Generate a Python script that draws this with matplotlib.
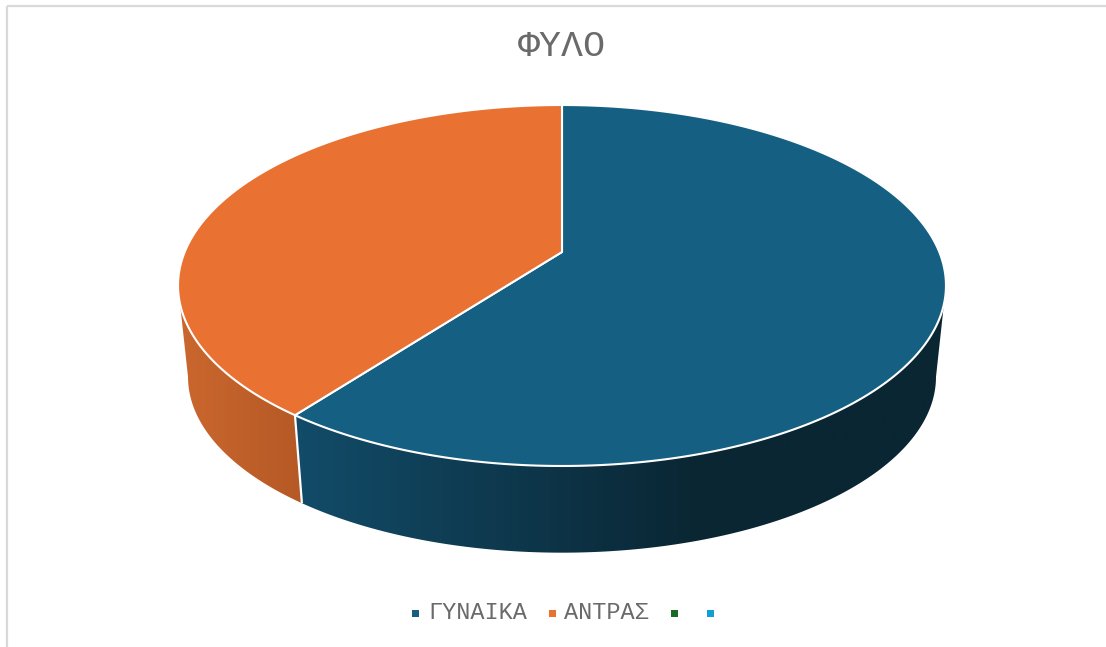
#!/usr/bin/env python

import numpy as np
import matplotlib
matplotlib.use("Agg")
from matplotlib import pyplot as plt
from matplotlib.colors import LinearSegmentedColormap
from matplotlib.patches import Polygon, Rectangle

title = "ΦΥΛΟ"
categories = ["ΓΥΝΑΙΚΑ", "ΑΝΤΡΑΣ", "", ""]
shares = [60.3, 39.7, 0, 0]
colors = ["#156082", "#E97132", "#196B24", "#0F9ED5"]
# side wall shade, left and right end of each wedge
sideColors = [("#124B68", "#0A2633"), ("#C9662D", "#B55926")]

W, H = 1106, 647
cx, apexY = 562, 252
persp = 0.1856   # how much the back of the disc shrinks
kx, ky = 377.3, -127.5
wallScale, wallDrop = 0.974, 98.8


def project(angle):
    """
    Clockwise angle from 12 o'clock on the unit disc to pixel position of the top rim
    """
    u, v = np.sin(angle), np.cos(angle)
    d = 1 + persp * v
    return cx + kx * u / d, (apexY + ky * v) / d


def toBottom(x, y):
    return cx + wallScale * (x - cx), wallScale * y + wallDrop


fig = plt.figure(figsize=(W / 100, H / 100), dpi=100)
ax = fig.add_axes([0, 0, 1, 1])

# chart frame
ax.add_patch(Rectangle((6.8, 5.6), W + 20, H + 20, fill=False, ec="#D9D9D9", lw=1.6))

total = sum(shares)
edges = np.cumsum([0] + shares) / total * 2 * np.pi

# only the front of the wall shows, between the two widest points of the rim
frontStart = np.arccos(-persp)
frontEnd = 2 * np.pi - frontStart
gradRange = [(302, 700), (188, 302)]
gradX = np.arange(150, 1000)

# side walls first, a gradient clipped to the outline of each wedge's wall
for i in range(2):
    t = np.linspace(max(edges[i], frontStart), min(edges[i + 1], frontEnd), 400)
    xTop, yTop = project(t)
    xBot, yBot = toBottom(xTop, yTop)
    pts = np.column_stack([np.r_[xTop, xBot[::-1]], np.r_[yTop, yBot[::-1]]])
    wall = Polygon(pts, closed=True, fc="none", ec="none")
    ax.add_patch(wall)
    cmap = LinearSegmentedColormap.from_list("wall%d" % i, sideColors[i])
    shade = np.interp(gradX, gradRange[i], [0, 1])[None, :]
    im = ax.imshow(shade, cmap=cmap, vmin=0, vmax=1, aspect="auto",
                   extent=[gradX[0], gradX[-1], 600, 200], interpolation="bilinear")
    im.set_clip_path(wall)

ax.set_xlim(0, W)
ax.set_ylim(H, 0)
ax.axis("off")

# white seam down the wall between the wedges
seamX, seamY = project(edges[1])
seamX2, seamY2 = toBottom(seamX, seamY)
ax.plot([seamX, seamX2], [seamY, seamY2], color="white", lw=1.6, solid_capstyle="butt")

# top surface
for i in range(2):
    t = np.linspace(edges[i], edges[i + 1], 400)
    xTop, yTop = project(t)
    pts = np.column_stack([np.r_[cx, xTop], np.r_[apexY, yTop]])
    ax.add_patch(Polygon(pts, closed=True, fc=colors[i], ec="white", lw=1.5, joinstyle="miter"))

ax.text(562, 46, title, ha="center", va="center", fontsize=26.4, color="#6A6A6A",
        family="Liberation Mono")

# legend
legendMarks = [415.5, 552.5, 674, 710]
legendText = [428, 564]
for i in range(4):
    ax.add_patch(Rectangle((legendMarks[i] - 3.5, 610.3), 7, 7, fc=colors[i], ec="none"))
    if categories[i]:
        ax.text(legendText[i], 612.5, categories[i], ha="left", va="center", fontsize=16.9,
                color="#6A6A6A", family="Liberation Mono")

fig.savefig("out.png", dpi=100)
